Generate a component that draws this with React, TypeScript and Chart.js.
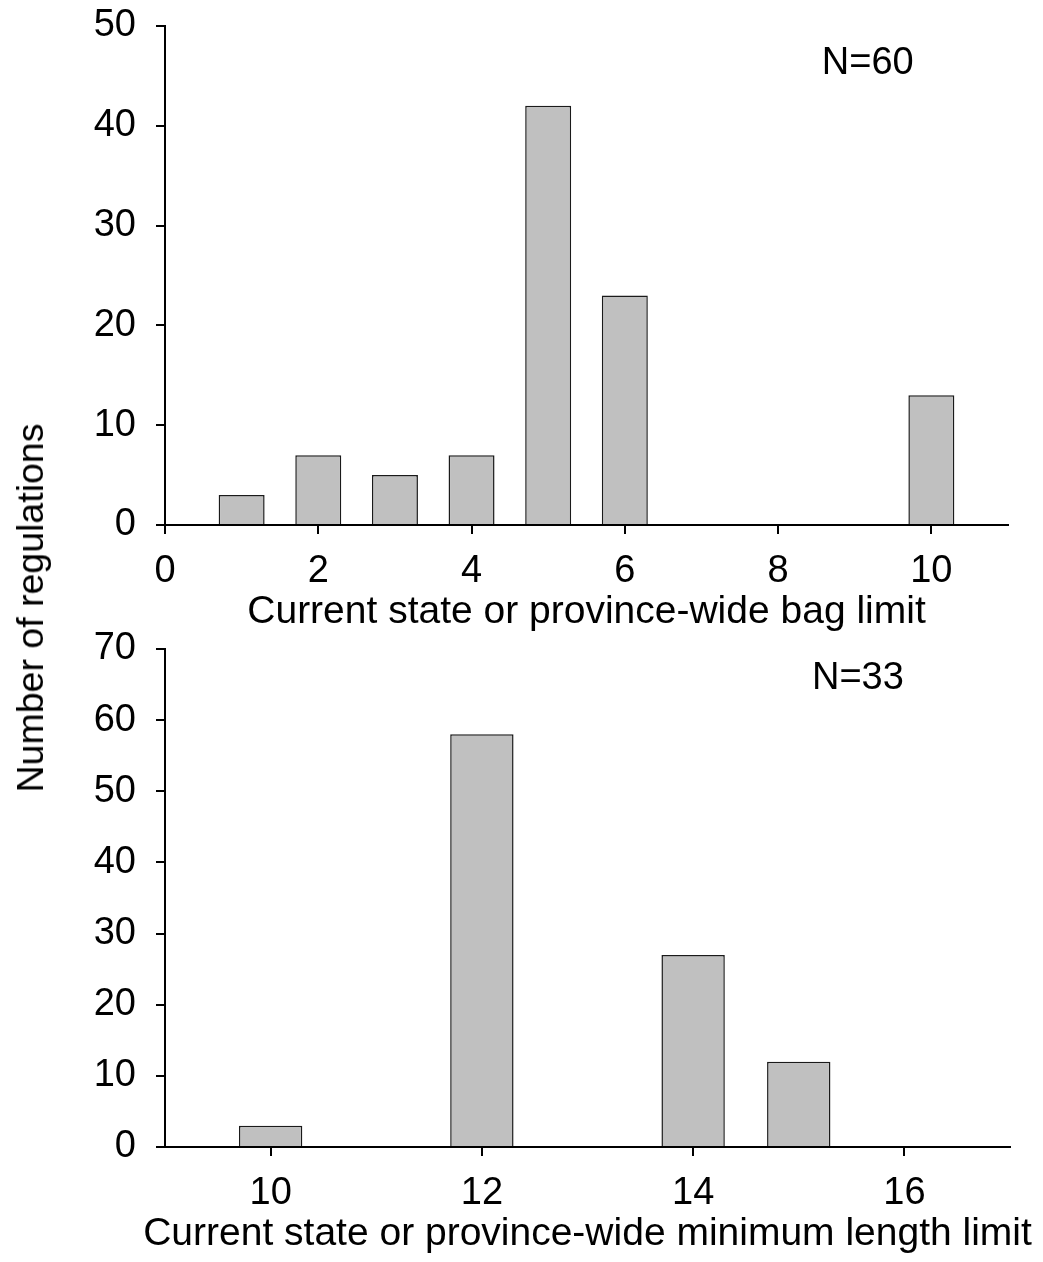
import React, { useEffect, useRef } from "react";
import { Chart, registerables } from "chart.js";

Chart.register(...registerables);

// ---------------- data ----------------
const bagLimitValues = [1, 2, 3, 4, 5, 6, 10];
const bagLimitCounts = [3, 7, 5, 7, 42, 23, 13];
const bagXTicks = [0, 2, 4, 6, 8, 10];
const bagYTicks = [0, 10, 20, 30, 40, 50];
const bagXRange = [0, 11];
const bagYRange = [0, 50];
const bagNote = "N=60";
const bagXTitle = "Current state or province-wide bag limit";

const lengthLimitValues = [10, 12, 14, 15];
const lengthLimitCounts = [3, 58, 27, 12];
const lengthXTicks = [10, 12, 14, 16];
const lengthYTicks = [0, 10, 20, 30, 40, 50, 60, 70];
const lengthXRange = [9, 17];
const lengthYRange = [0, 70];
const lengthNote = "N=33";
const lengthXTitle = "Current state or province-wide minimum length limit";

const yTitle = "Number of regulations";

// ---------------- styling ----------------
const FONT = "'Liberation Sans', Arial, Helvetica, sans-serif";
const TICK_SIZE = 38;
const TITLE_SIZE = 39;

const notePlugin = {
  id: "note",
  afterDatasetsDraw(chart: any, _args: any, opts: any) {
    if (!opts || !opts.text) return;
    const { ctx, scales } = chart;
    const px = scales.x.getPixelForValue(opts.x);
    const py = scales.y.getPixelForValue(opts.y);
    ctx.save();
    ctx.font = `${opts.size}px ${FONT}`;
    ctx.fillStyle = "#000";
    ctx.textAlign = "center";
    ctx.textBaseline = "middle";
    ctx.fillText(opts.text, px, py);
    ctx.restore();
  },
};

// x-axis title drawn without the scale's maxWidth squeeze
const xTitlePlugin = {
  id: "xTitle",
  afterDraw(chart: any, _args: any, opts: any) {
    if (!opts || !opts.text) return;
    const { ctx, chartArea } = chart;
    const cx = (chartArea.left + chartArea.right) / 2;
    const cy = chart.height - opts.bottomPad - (opts.size * 1.2) / 2;
    ctx.save();
    ctx.font = `${opts.size}px ${FONT}`;
    ctx.fillStyle = "#000";
    ctx.textAlign = "center";
    ctx.textBaseline = "middle";
    ctx.fillText(opts.text, cx, cy);
    ctx.restore();
  },
};

type PanelProps = {
  xs: number[];
  ys: number[];
  xTicks: number[];
  yTicks: number[];
  xRange: number[];
  yRange: number[];
  note: string;
  noteAt: [number, number];
  xTitle: string;
  top: number;
  height: number;
  padTop: number;
  padRight: number;
};

function Panel(p: PanelProps) {
  const ref = useRef<HTMLCanvasElement | null>(null);
  useEffect(() => {
    if (!ref.current) return;
    const chart = new Chart(ref.current, {
      type: "bar",
      data: {
        datasets: [
          {
            data: p.xs.map((x, i) => ({ x, y: p.ys[i] })),
            backgroundColor: "#c0c0c0",
            borderColor: "#1a1a1a",
            borderWidth: 1.5,
            borderSkipped: "start",
            categoryPercentage: 1,
            barPercentage: 0.6,
          } as any,
        ],
      },
      options: {
        animation: false,
        responsive: false,
        devicePixelRatio: 1,
        layout: { padding: { top: p.padTop, right: p.padRight, bottom: 0, left: 0 } },
        plugins: {
          legend: { display: false },
          tooltip: { enabled: false },
          note: { text: p.note, x: p.noteAt[0], y: p.noteAt[1], size: TICK_SIZE },
          xTitle: { text: p.xTitle, size: TITLE_SIZE, bottomPad: 4 },
        } as any,
        scales: {
          x: {
            type: "linear",
            offset: false,
            min: p.xRange[0],
            max: p.xRange[1],
            afterBuildTicks: (s: any) => {
              s.ticks = p.xTicks.map((v) => ({ value: v }));
            },
            afterFit: (s: any) => {
              s.height = 115;
              s.paddingLeft = 0;
              s.paddingRight = 0;
            },
            border: { display: true, color: "#000", width: 2 },
            grid: {
              display: true,
              offset: false,
              drawOnChartArea: false,
              drawTicks: true,
              tickLength: 9,
              color: "#000",
              lineWidth: 2,
            },
            ticks: {
              color: "#000",
              font: { family: FONT, size: TICK_SIZE },
              padding: 15,
              maxRotation: 0,
              autoSkip: false,
            },
            title: { display: false },
          },
          y: {
            type: "linear",
            min: p.yRange[0],
            max: p.yRange[1],
            afterBuildTicks: (s: any) => {
              s.ticks = p.yTicks.map((v) => ({ value: v }));
            },
            afterFit: (s: any) => {
              s.width = 165;
              s.paddingTop = 0;
              s.paddingBottom = 0;
            },
            border: { display: true, color: "#000", width: 2 },
            grid: {
              display: true,
              drawOnChartArea: false,
              drawTicks: true,
              tickLength: 9,
              color: "#000",
              lineWidth: 2,
            },
            ticks: {
              color: "#000",
              font: { family: FONT, size: TICK_SIZE },
              padding: 20,
            },
          },
        },
      } as any,
      plugins: [notePlugin as any, xTitlePlugin as any],
    });
    return () => chart.destroy();
  }, []);
  return (
    <canvas
      ref={ref}
      width={1043}
      height={p.height}
      style={{ position: "absolute", left: 0, top: p.top, width: 1043, height: p.height }}
    />
  );
}

export default function App() {
  return (
    <div
      style={{
        position: "absolute",
        left: 0,
        top: 0,
        width: 1043,
        height: 1262,
        background: "#fff",
        overflow: "hidden",
      }}
    >
      <Panel
        xs={bagLimitValues}
        ys={bagLimitCounts}
        xTicks={bagXTicks}
        yTicks={bagYTicks}
        xRange={bagXRange}
        yRange={bagYRange}
        note={bagNote}
        noteAt={[9.17, 46.2]}
        xTitle={bagXTitle}
        top={0}
        height={640}
        padTop={26}
        padRight={35}
      />
      <Panel
        xs={lengthLimitValues}
        ys={lengthLimitCounts}
        xTicks={lengthXTicks}
        yTicks={lengthYTicks}
        xRange={lengthXRange}
        yRange={lengthYRange}
        note={lengthNote}
        noteAt={[15.56, 65.9]}
        xTitle={lengthXTitle}
        top={620}
        height={642}
        padTop={29}
        padRight={33}
      />
      <div
        style={{
          position: "absolute",
          left: 30,
          top: 608,
          transform: "translate(-50%, -50%) rotate(-90deg)",
          whiteSpace: "nowrap",
          fontFamily: FONT,
          fontSize: 37.5,
          lineHeight: "36px",
          color: "#000",
        }}
      >
        {yTitle}
      </div>
    </div>
  );
}
